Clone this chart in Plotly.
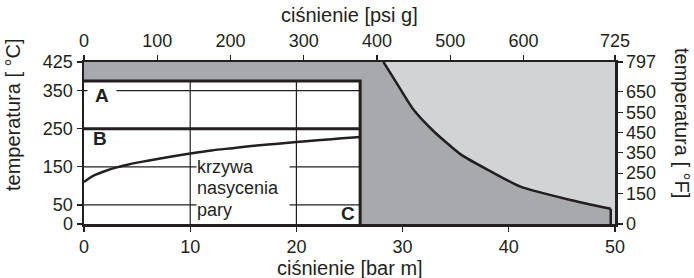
import plotly.graph_objects as go

# ---- data ----
bar_ticks = [0, 10, 20, 30, 40, 50]
psi_ticks = [0, 100, 200, 300, 400, 500, 600, 725]
degc_ticks = [0, 50, 150, 250, 350, 425]
degf_ticks = [0, 150, 250, 350, 450, 550, 650, 797]

bar_max = 50
psi_max = 725
degc_max = 425
degf_max = 797

# limits of region
box_bar = 26          # max pressure of white region
box_temp = 375        # max temp of white region
line_b = 250          # line B
grid_bar = [10, 20]
grid_temp = [350, 150, 50]

# boundary curve (dark / light gray)
bound_bar = [28.2, 29.5, 31.0, 32.9, 35.5, 38.3, 41.1, 45.8, 49.6, 49.6]
bound_temp = [425, 367, 301, 244, 182, 138, 98, 63, 40, 0]

# saturation curve
sat_bar = [0, 0.5, 1, 2, 3, 4, 5, 6, 8, 10, 12, 14, 16, 18, 20, 22, 24, 26]
sat_temp = [110, 120, 128, 139, 148, 155, 161, 166, 176, 185, 193, 199, 205, 210, 215, 220, 224, 228]

label_lines = ["krzywa", "nasycenia", "pary"]
label_temps = [150, 95, 37]

INK = "#231f20"
DARK = "#a7a9ac"
LIGHT = "#d1d3d4"
FONT = "Liberation Sans, Arial, sans-serif"

fig = go.Figure()

# light gray background
fig.add_trace(go.Scatter(x=[0, bar_max, bar_max, 0], y=[0, 0, degc_max, degc_max],
                         fill="toself", fillcolor=LIGHT, mode="none", hoverinfo="skip"))
# dark gray region
dx = [0, 0] + bound_bar + [box_bar, box_bar]
dy = [box_temp, degc_max] + bound_temp + [0, box_temp]
fig.add_trace(go.Scatter(x=dx, y=dy, fill="toself", fillcolor=DARK, mode="none", hoverinfo="skip"))
# white region
fig.add_trace(go.Scatter(x=[0, box_bar, box_bar, 0], y=[0, 0, box_temp, box_temp],
                         fill="toself", fillcolor="white", mode="none", hoverinfo="skip"))

# grid lines inside white region
gx, gy = [], []
for b in grid_bar:
    gx += [b, b, None]
    gy += [0, box_temp, None]
for t in grid_temp:
    gx += [0, box_bar, None]
    gy += [t, t, None]
fig.add_trace(go.Scatter(x=gx, y=gy, mode="lines", line=dict(color=INK, width=1.2), hoverinfo="skip"))

# thick lines of white region
fig.add_trace(go.Scatter(x=[0, box_bar, box_bar, None, 0, box_bar],
                         y=[box_temp, box_temp, 0, None, line_b, line_b],
                         mode="lines", line=dict(color=INK, width=3), hoverinfo="skip"))

# boundary curve
fig.add_trace(go.Scatter(x=bound_bar[:-1], y=bound_temp[:-1], mode="lines", line_shape="spline",
                         line=dict(color=INK, width=2.5, smoothing=0.6), hoverinfo="skip"))
fig.add_trace(go.Scatter(x=bound_bar[-2:], y=bound_temp[-2:], mode="lines",
                         line=dict(color=INK, width=2.5), hoverinfo="skip"))

# saturation curve
fig.add_trace(go.Scatter(x=sat_bar, y=sat_temp, mode="lines", line_shape="spline",
                         line=dict(color=INK, width=2.5), hoverinfo="skip"))

# invisible trace for secondary axes
fig.add_trace(go.Scatter(x=[0, psi_max], y=[0, degf_max], xaxis="x2", yaxis="y2",
                         mode="markers", marker=dict(opacity=0), hoverinfo="skip"))

tickfont = dict(family=FONT, size=18, color=INK)
common = dict(showgrid=False, zeroline=False, showline=True, linecolor=INK, linewidth=2.5,
              ticks="outside", ticklen=5, tickwidth=1.2, tickcolor=INK, tickfont=tickfont,
              fixedrange=True, automargin=False)

fig.update_layout(
    width=694, height=278,
    margin=dict(l=84, r=79, t=62, b=54, autoexpand=False),
    paper_bgcolor="white", plot_bgcolor="white",
    showlegend=False,
    xaxis=dict(range=[0, bar_max], tickvals=bar_ticks, **common),
    xaxis2=dict(range=[0, psi_max], tickvals=psi_ticks, overlaying="x", side="top", anchor="y", **common),
    yaxis=dict(range=[0, degc_max], tickvals=degc_ticks, **common),
    yaxis2=dict(range=[0, degf_max], tickvals=degf_ticks, overlaying="y", side="right", anchor="x", **common),
)

titlefont = dict(family=FONT, size=20, color=INK)
labfont = dict(family=FONT, size=19, color=INK)
ann = [
    dict(text="ciśnienie [psi g]", xref="paper", yref="paper", x=0.5, y=1, yshift=47,
         showarrow=False, font=titlefont, xanchor="center", yanchor="middle"),
    dict(text="ciśnienie [bar m]", xref="paper", yref="paper", x=0.5, y=0, yshift=-44,
         showarrow=False, font=titlefont, xanchor="center", yanchor="middle"),
    dict(text="temperatura [ °C]", xref="paper", yref="paper", x=0, xshift=-71, y=0.5, yshift=28,
         showarrow=False, font=titlefont, textangle=-90, xanchor="center", yanchor="middle"),
    dict(text="temperatura [ °F]", xref="paper", yref="paper", x=1, xshift=67, y=0.5, yshift=20,
         showarrow=False, font=titlefont, textangle=90, xanchor="center", yanchor="middle"),
    dict(text="<b>A</b>", x=0.25, y=338, showarrow=False, font=labfont, xanchor="left",
         yanchor="middle", bgcolor="white", borderpad=0, height=16, width=28, align="center"),
    dict(text="<b>B</b>", x=0.65, y=224, showarrow=False, font=labfont, xanchor="left",
         yanchor="middle"),
    dict(text="<b>C</b>", x=25.75, y=28, showarrow=False, font=labfont, xanchor="right",
         yanchor="middle"),
]
for txt, t in zip(label_lines, label_temps):
    ann.append(dict(text=txt, x=10.55, y=t, showarrow=False,
                    font=dict(family=FONT, size=18, color=INK),
                    xanchor="left", yanchor="middle", align="left", bgcolor="white",
                    width=92, borderpad=0))
fig.update_layout(annotations=ann)

fig.write_html("out.html", post_script="document.body.style.margin='0';",
               config={"displayModeBar": False, "staticPlot": True})
